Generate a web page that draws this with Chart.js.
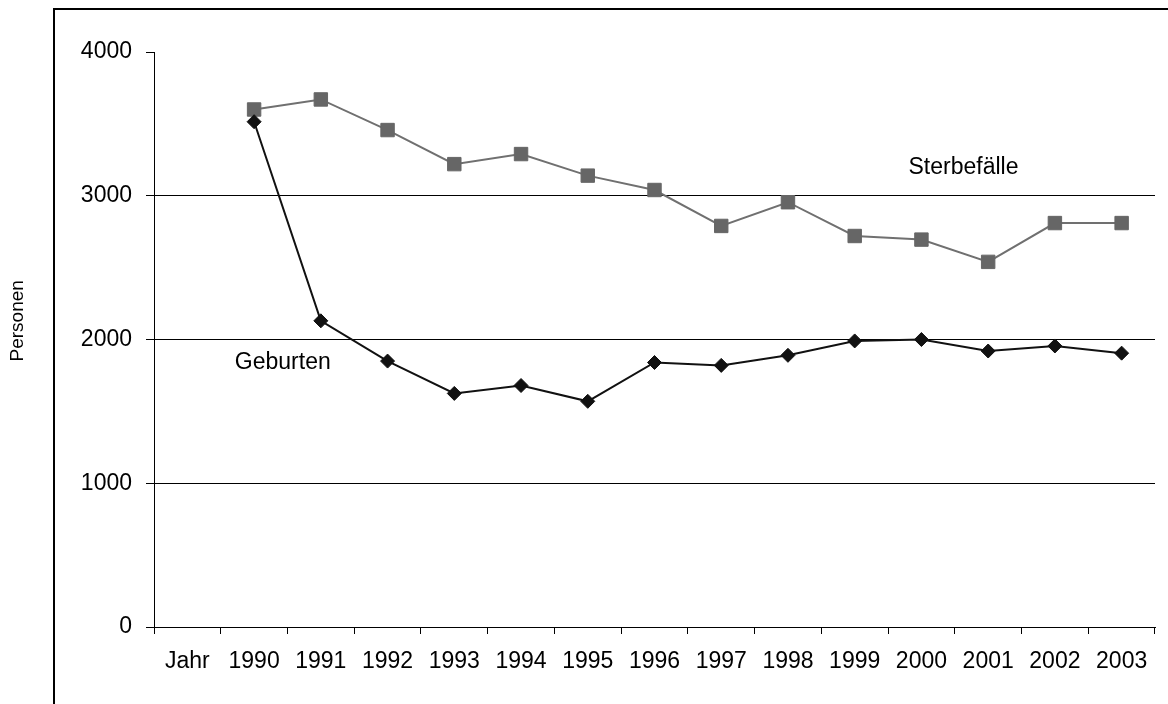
<!DOCTYPE html>
<html>
<head>
<meta charset="utf-8">
<script src="https://cdn.jsdelivr.net/npm/chart.js@4"></script>
<style>
  html, body { margin: 0; padding: 0; background: #fff; }
  canvas { display: block; }
</style>
</head>
<body>
<canvas id="c" width="1168" height="704"></canvas>
<script>
// ---- data ----
const categories = ['Jahr', '1990', '1991', '1992', '1993', '1994', '1995', '1996', '1997', '1998', '1999', '2000', '2001', '2002', '2003'];
const sterbefaelle = [null, 3600, 3670, 3457, 3220, 3290, 3140, 3040, 2790, 2955, 2720, 2695, 2540, 2810, 2810];
const geburten = [null, 3515, 2130, 1850, 1625, 1680, 1570, 1840, 1820, 1890, 1990, 2000, 1920, 1955, 1905];
const yTicks = [0, 1000, 2000, 3000, 4000];
const yTickLabels = ['0', '1000', '2000', '3000', '4000'];
const seriesNames = ['Geburten', 'Sterbefälle'];
const axisTitle = 'Personen';

// ---- styling / layout (not data) ----
const FONT = '"Liberation Sans", Arial, sans-serif';
const labelAnchors = [
  { text: seriesNames[1], idx: 11.63, val: 3193 },
  { text: seriesNames[0], idx: 1.43, val: 1837 }
];

const decorPlugin = {
  id: 'decor',
  beforeDraw(chart) {
    const ctx = chart.ctx;
    ctx.save();
    ctx.fillStyle = '#fff';
    ctx.fillRect(0, 0, chart.width, chart.height);
    ctx.strokeStyle = '#000';
    ctx.lineWidth = 2;
    ctx.strokeRect(54, 9, 3000, 3000);
    ctx.restore();
  },
  afterDraw(chart) {
    const ctx = chart.ctx;
    const xs = chart.scales.x, ys = chart.scales.y;
    ctx.save();
    ctx.fillStyle = '#000';
    ctx.font = '23px ' + FONT;
    ctx.textAlign = 'center';
    ctx.textBaseline = 'middle';
    labelAnchors.forEach(a => {
      ctx.fillText(a.text, xs.getPixelForValue(a.idx), ys.getPixelForValue(a.val));
    });
    // vertical axis title
    ctx.translate(18, ys.getPixelForValue(2130));
    ctx.rotate(-Math.PI / 2);
    ctx.font = '19px ' + FONT;
    ctx.fillText(axisTitle, 0, 0);
    ctx.restore();
  }
};

new Chart(document.getElementById('c'), {
  type: 'line',
  data: {
    labels: categories,
    datasets: [
      {
        label: seriesNames[0],
        data: geburten,
        borderColor: '#111',
        backgroundColor: '#111',
        borderWidth: 2,
        pointStyle: 'rectRot',
        pointRadius: 7,
        pointBorderWidth: 1,
        pointBackgroundColor: '#111',
        pointBorderColor: '#111',
        tension: 0
      },
      {
        label: seriesNames[1],
        data: sterbefaelle,
        borderColor: '#707070',
        backgroundColor: '#666',
        borderWidth: 2,
        pointStyle: 'rect',
        pointRadius: 9.5,
        pointBorderWidth: 1,
        pointBackgroundColor: '#666',
        pointBorderColor: '#666',
        tension: 0
      }
    ]
  },
  options: {
    responsive: false,
    devicePixelRatio: 1,
    animation: false,
    events: [],
    layout: { padding: { top: 52, right: 13, left: 0, bottom: 0 } },
    plugins: {
      legend: { display: false },
      tooltip: { enabled: false },
      title: { display: false }
    },
    scales: {
      x: {
        type: 'category',
        offset: true,
        grid: {
          offset: true,
          drawOnChartArea: false,
          drawTicks: true,
          tickLength: 7,
          tickColor: '#000',
          color: '#000'
        },
        border: { display: true, color: '#000', width: 1 },
        ticks: {
          color: '#000',
          font: { family: FONT, size: 23 },
          padding: 14,
          maxRotation: 0,
          autoSkip: false
        },
        afterFit(scale) { scale.height = 77; }
      },
      y: {
        min: 0,
        max: 4000,
        afterBuildTicks(scale) { scale.ticks = yTicks.map(v => ({ value: v })); },
        grid: {
          drawTicks: true,
          tickLength: 8,
          tickColor: '#000',
          color: (c) => (c.tick && (c.tick.value === 0 || c.tick.value === 4000)) ? 'rgba(0,0,0,0)' : '#000',
          lineWidth: 1
        },
        border: { display: true, color: '#000', width: 1 },
        ticks: {
          color: '#000',
          font: { family: FONT, size: 23 },
          padding: 14,
          callback: (v) => yTickLabels[yTicks.indexOf(v)]
        },
        afterFit(scale) { scale.width = 154; }
      }
    }
  },
  plugins: [decorPlugin]
});
</script>
</body>
</html>
